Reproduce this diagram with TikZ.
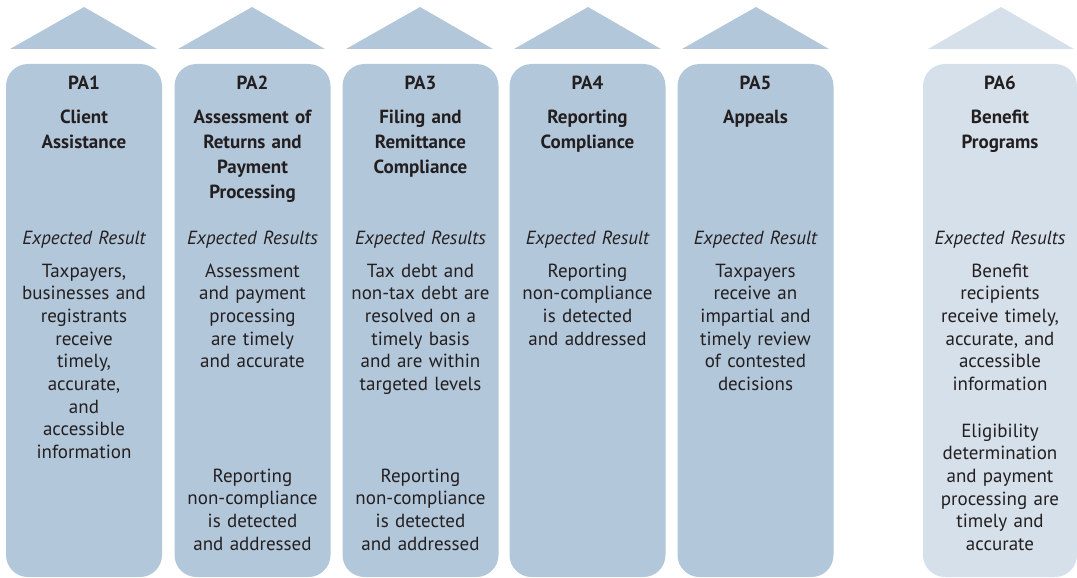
\documentclass[tikz,border=0pt]{standalone}
\usepackage{fontspec}
\setmainfont{PT Sans}
\definecolor{colfill}{HTML}{B3C7DA}
\definecolor{colfillL}{HTML}{D6E0EA}
\definecolor{ink}{HTML}{231F20}
\begin{document}
\begin{tikzpicture}[x=1pt,y=-1pt,
  colbox/.style={fill=#1, draw=none, rounded corners=22pt, minimum width=156pt, minimum height=513pt, inner sep=0pt},
  roof/.style={fill=#1, draw=none},
  txt/.style={text=ink, anchor=base, align=center, text width=152pt, inner sep=0pt},
  patag/.style={txt, font=\fontsize{19}{25}\selectfont\bfseries},
  ttl/.style={txt, font=\fontsize{19}{24.8}\selectfont\bfseries},
  exp/.style={txt, font=\fontsize{19}{22.7}\selectfont\itshape},
  body/.style={txt, font=\fontsize{19}{22.7}\selectfont},
]
\useasboundingbox (0,0) rectangle (1077,578);
% roofs
\fill[roof=colfill] (10,49) -- (84,7) -- (157,49) -- cycle;
\fill[roof=colfill] (178,49) -- (252,7) -- (325,49) -- cycle;
\fill[roof=colfill] (346,49) -- (420,7) -- (493,49) -- cycle;
\fill[roof=colfill] (514,49) -- (588,7) -- (661,49) -- cycle;
\fill[roof=colfill] (682,49) -- (756,7) -- (829,49) -- cycle;
\fill[roof=colfillL] (928,49) -- (1001,7) -- (1074,49) -- cycle;
% boxes
\node[colbox=colfill] (b1) at (84,320.5) {};
\node[colbox=colfill] (b2) at (252.5,320.5) {};
\node[colbox=colfill] (b3) at (420.5,320.5) {};
\node[colbox=colfill] (b4) at (587.5,320.5) {};
\node[colbox=colfill] (b5) at (755.5,320.5) {};
\node[colbox=colfillL, minimum width=154pt] (b6) at (1000,320.5) {};
% PA1
\node[patag] (p1) at (84,90) {PA1};
\node[ttl] (t1) at (84,124) {Client\\Assistance};
\node[exp] (e1) at (84,244) {Expected Result};
\node[body] (r1) at (84,277) {Taxpayers,\\businesses and\\registrants\\receive\\timely,\\accurate,\\and\\accessible\\information};
% PA2
\node[patag] (p2) at (252.5,90) {PA2};
\node[ttl] (t2) at (252.5,124) {Assessment of\\Returns and\\Payment\\Processing};
\node[exp] (e2) at (252.5,244) {Expected Results};
\node[body] (r2) at (252.5,277) {Assessment\\and payment\\processing\\are timely\\and accurate};
\node[body] (s2) at (252.5,482) {Reporting\\non-compliance\\is detected\\and addressed};
% PA3
\node[patag] (p3) at (420.5,90) {PA3};
\node[ttl] (t3) at (420.5,124) {Filing and\\Remittance\\Compliance};
\node[exp] (e3) at (420.5,244) {Expected Results};
\node[body] (r3) at (420.5,277) {Tax debt and\\non-tax debt are\\resolved on a\\timely basis\\and are within\\targeted levels};
\node[body] (s3) at (420.5,482) {Reporting\\non-compliance\\is detected\\and addressed};
% PA4
\node[patag] (p4) at (587.5,90) {PA4};
\node[ttl] (t4) at (587.5,124) {Reporting\\Compliance};
\node[exp] (e4) at (587.5,244) {Expected Result};
\node[body] (r4) at (587.5,277) {Reporting\\non-compliance\\is detected\\and addressed};
% PA5
\node[patag] (p5) at (755.5,90) {PA5};
\node[ttl] (t5) at (755.5,124) {Appeals};
\node[exp] (e5) at (755.5,244) {Expected Result};
\node[body] (r5) at (755.5,277) {Taxpayers\\receive an\\impartial and\\timely review\\of contested\\decisions};
% PA6
\node[patag] (p6) at (1000,90) {PA6};
\node[ttl] (t6) at (1000,124) {Benefit\\Programs};
\node[exp] (e6) at (1000,244) {Expected Results};
\node[body] (r6) at (1000,277) {Benefit\\recipients\\receive timely,\\accurate, and\\accessible\\information};
\node[body] (s6) at (1000,437) {Eligibility\\determination\\and payment\\processing are\\timely and\\accurate};
\end{tikzpicture}
\end{document}
